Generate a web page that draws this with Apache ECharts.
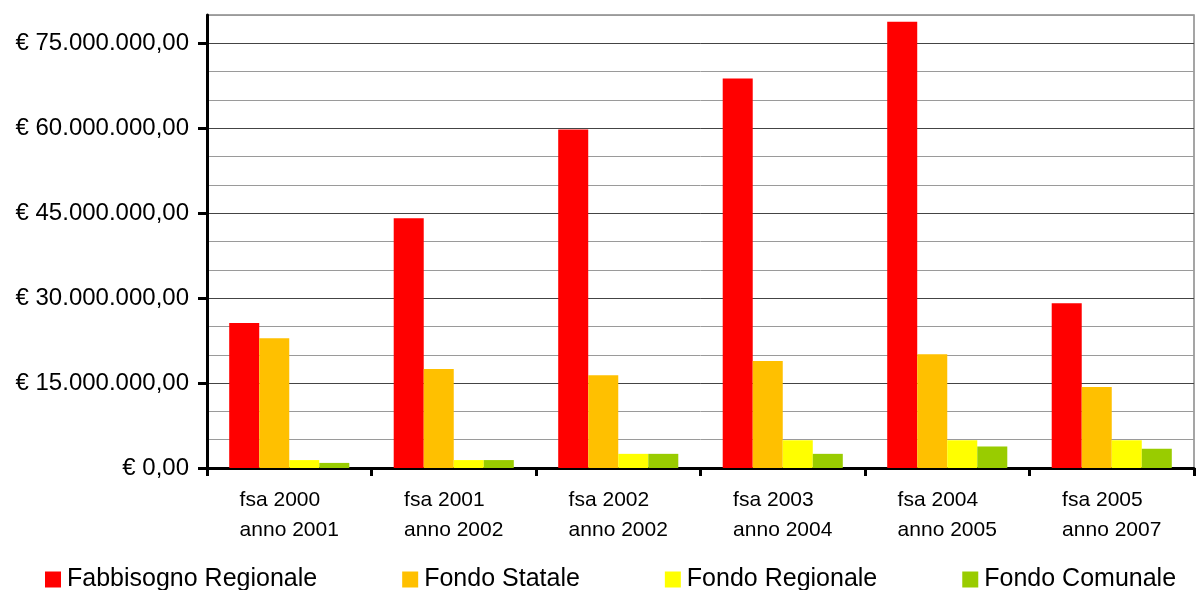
<!DOCTYPE html>
<html>
<head>
<meta charset="utf-8">
<script src="https://cdn.jsdelivr.net/npm/echarts@6/dist/echarts.min.js"></script>
<style>
html,body{margin:0;padding:0;background:#fff;}
#c{width:1196px;height:590px;}
</style>
</head>
<body>
<div id="c"></div>
<script>
const fsaLabels = ['fsa 2000','fsa 2001','fsa 2002','fsa 2003','fsa 2004','fsa 2005'];
const annoLabels = ['anno 2001','anno 2002','anno 2002','anno 2004','anno 2005','anno 2007'];
const seriesNames = ['Fabbisogno Regionale','Fondo Statale','Fondo Regionale','Fondo Comunale'];
const fabbisognoRegionale = [25600000, 44100000, 59800000, 68800000, 78800000, 29100000];
const fondoStatale = [22900000, 17500000, 16400000, 18900000, 20100000, 14300000];
const fondoRegionale = [1400000, 1400000, 2500000, 4900000, 4900000, 4900000];
const fondoComunale = [900000, 1400000, 2500000, 2500000, 3800000, 3400000];
const yMajorTicks = [0, 15000000, 30000000, 45000000, 60000000, 75000000];
const colors = ['#FF0000','#FFC000','#FFFF00','#99CC00'];

const categories = fsaLabels.map((f, i) => f + '|' + annoLabels[i]);
const FONT = "'Liberation Sans', Arial, sans-serif";

function fmtEuro(v) {
  const s = Math.round(v).toString().replace(/\B(?=(\d{3})+(?!\d))/g, '.');
  return '€ ' + s + ',00';
}

const chart = echarts.init(document.getElementById('c'), null, {renderer: 'canvas'});
const data = [fabbisognoRegionale, fondoStatale, fondoRegionale, fondoComunale];
chart.setOption({
  animation: false,
  backgroundColor: '#fff',
  textStyle: {fontFamily: FONT},
  grid: {left: 207, right: 2, top: 15, bottom: 122, show: true, borderColor: '#888', borderWidth: 1.5, containLabel: false},
  legend: {
    left: 40, top: 562, itemWidth: 16, itemHeight: 16, itemGap: 85,
    icon: 'rect',
    textStyle: {fontSize: 25, color: '#000', fontFamily: FONT, padding: [0,0,0,1]},
    data: seriesNames
  },
  xAxis: {
    type: 'category',
    data: categories,
    axisLine: {lineStyle: {color: '#000', width: 3}},
    axisTick: {show: true, length: 8, lineStyle: {color: '#000', width: 3}},
    axisLabel: {
      margin: 17,
      interval: 0,
      formatter: function (v) {
        const p = v.split('|');
        return '{a|' + p[0] + '}\n{b|' + p[1] + '}';
      },
      rich: {
        a: {fontSize: 21, lineHeight: 30, color: '#000', fontFamily: FONT, width: 99, align: 'left'},
        b: {fontSize: 21, lineHeight: 30, color: '#000', fontFamily: FONT}
      }
    },
    splitLine: {show: false}
  },
  yAxis: [
    {
      type: 'value', position: 'left', min: 0, max: 80000000, interval: 5000000,
      axisLine: {show: false}, axisTick: {show: false}, axisLabel: {show: false},
      splitLine: {show: true, lineStyle: {color: '#9a9a9a', width: 1}}
    },
    {
      type: 'value', position: 'left', offset: 0, min: 0, max: 80000000, interval: 15000000,
      axisLine: {show: true, onZero: false, lineStyle: {color: '#000', width: 3}},
      axisTick: {show: true, length: 9, lineStyle: {color: '#000', width: 3}, customValues: yMajorTicks},
      axisLabel: {
        margin: 18, fontSize: 24, color: '#000', fontFamily: FONT,
        customValues: yMajorTicks,
        formatter: function (v) { return v % 15000000 === 0 ? fmtEuro(v) : ''; }
      },
      splitLine: {show: true, lineStyle: {color: '#444', width: 1}}
    }
  ],
  series: seriesNames.map((n, i) => ({
    name: n, type: 'bar', data: data[i], yAxisIndex: 0,
    barGap: '0%', barCategoryGap: '27%',
    itemStyle: {color: colors[i]}
  }))
});
</script>
</body>
</html>
